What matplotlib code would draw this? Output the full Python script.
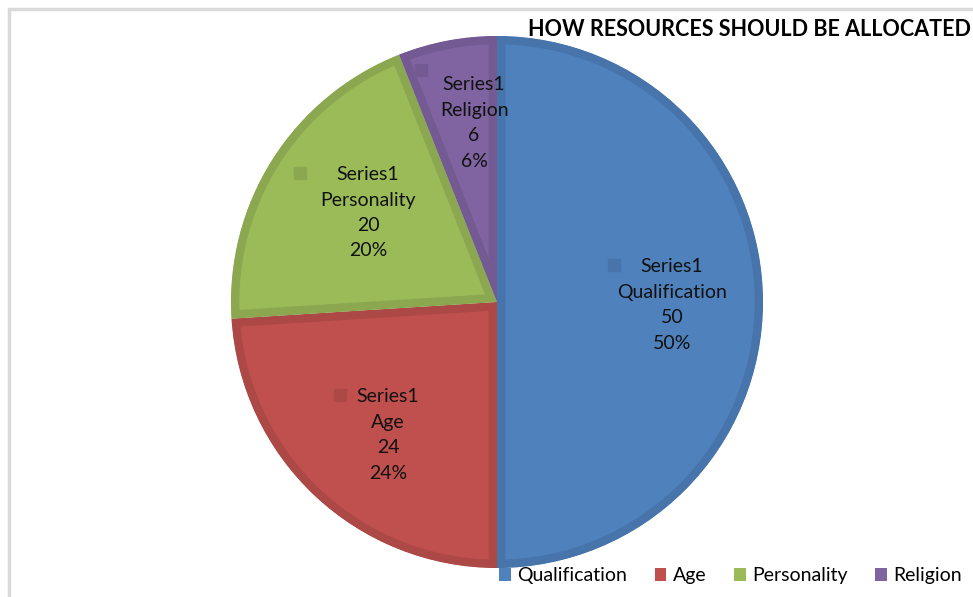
import matplotlib
matplotlib.use('Agg')
import matplotlib.pyplot as plt
from matplotlib.patches import Patch, Rectangle

plt.rcParams['font.family'] = ['Lato', 'DejaVu Sans']

# data
categories = ['Qualification', 'Age', 'Personality', 'Religion']
values = [50, 24, 20, 6]
series_name = 'Series1'
percents = ['50%', '24%', '20%', '6%']

fill_colors = ['#4F81BD', '#C0504D', '#9BBB59', '#8064A2']
edge_colors = ['#4674AB', '#AC4845', '#8BA850', '#735A92']

# label placement (data coords, pie radius = 1)
label_pos = [(0.658, -0.011), (-0.41, -0.50), (-0.485, 0.335), (-0.086, 0.673)]
marker_pos = [(0.44, 0.139), (-0.59, -0.35), (-0.74, 0.485), (-0.286, 0.872)]

W, H = 973, 597
fig = plt.figure(figsize=(W / 100, H / 100), dpi=100)

# pie axes: centre (497, 302) px, radius 266 px
cx, cy, r = 497, 302, 266
ax = fig.add_axes([(cx - r) / W, (H - cy - r) / H, 2 * r / W, 2 * r / H])

wedges, _ = ax.pie(values, colors=fill_colors, startangle=90, counterclock=False,
                   radius=1.0, center=(0, 0))
ax.set_xlim(-1, 1)
ax.set_ylim(-1, 1)
ax.set_aspect('equal')
ax.axis('off')

# darker border drawn only on the inside of each slice
for w, ec in zip(wedges, edge_colors):
    w.set_edgecolor(ec)
    w.set_linewidth(12)
    w.set_clip_on(True)
    w.set_clip_path(w.get_path(), ax.transData)

for i, cat in enumerate(categories):
    tx, ty = label_pos[i]
    ax.text(tx, ty, f'{series_name}\n{cat}\n{values[i]}\n{percents[i]}',
            ha='center', va='center', fontsize=14, linespacing=1.6, color='#111111')
    mx, my = marker_pos[i]
    ax.plot(mx, my, marker='s', markersize=8, color=edge_colors[i], linestyle='none')

# title
fig.text(528 / W, 1 - 30 / H, 'HOW RESOURCES SHOULD BE ALLOCATED',
         ha='left', va='center', fontsize=15.5, fontweight='bold', color='#000000')

# legend
handles = [Patch(facecolor=c, edgecolor='none') for c in fill_colors]
fig.legend(handles, categories, loc='center left', bbox_to_anchor=(499 / W, 1 - 576 / H),
           ncol=4, frameon=False, fontsize=14, handlelength=0.6, handleheight=0.6,
           handletextpad=0.35, columnspacing=1.4, borderpad=0, borderaxespad=0)

# chart area frame
fig.add_artist(Rectangle((9 / W, -0.1), 1.2, (H - 9) / H + 0.1, transform=fig.transFigure,
                         fill=False, edgecolor='#d9d9d9', linewidth=2.5))

fig.savefig('out.png', dpi=100)
